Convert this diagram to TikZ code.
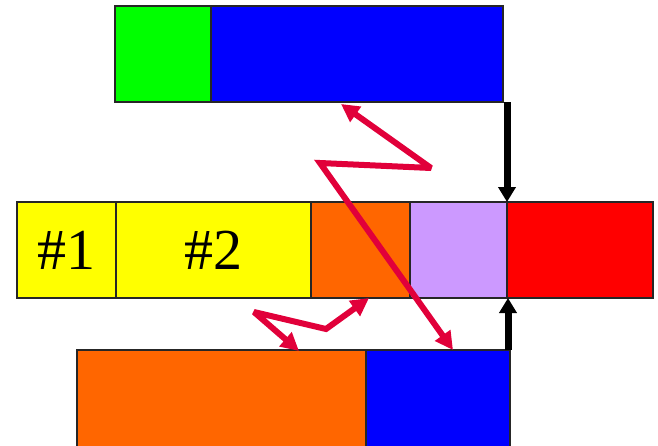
\documentclass[tikz,border=0pt]{standalone}
\usepackage{fontspec}
\setmainfont{Liberation Serif}
\usetikzlibrary{arrows.meta}
\definecolor{cgreen}{RGB}{0,255,0}
\definecolor{cblue}{RGB}{0,0,255}
\definecolor{cyellow}{RGB}{255,255,0}
\definecolor{corange}{RGB}{255,102,0}
\definecolor{clav}{RGB}{204,153,255}
\definecolor{cred}{RGB}{255,0,0}
\definecolor{czig}{RGB}{225,0,58}
\tikzset{
  box/.style={draw=black!85, line width=1.4pt, inner sep=0pt, outer sep=0pt, anchor=north west, font=\fontsize{58}{60}\selectfont},
  barrow/.style={line width=7pt, -{Triangle[length=15pt,width=17pt]}},
  zig/.style={draw=czig, line width=6pt, line join=miter, miter limit=2.5, {Triangle[length=18pt,width=18pt]}-{Triangle[length=18pt,width=18pt]}}
}
\begin{document}
\begin{tikzpicture}[x=1pt,y=-1pt]
\useasboundingbox (0,0) rectangle (658,445);
\clip (0,0) rectangle (658,445);
% top row
\node[box, fill=cgreen, minimum width=96pt, minimum height=96pt] (tg) at (115,6) {};
\node[box, fill=cblue, minimum width=292pt, minimum height=96pt] (tb) at (211,6) {};
% middle row
\node[box, fill=cyellow, minimum width=99pt, minimum height=96pt] (m1) at (17,202) {\#1};
\node[box, fill=cyellow, minimum width=195pt, minimum height=96pt] (m2) at (116,202) {\#2};
\node[box, fill=corange, minimum width=99pt, minimum height=96pt] (mo) at (311,202) {};
\node[box, fill=clav, minimum width=97pt, minimum height=96pt] (ml) at (410,202) {};
\node[box, fill=cred, minimum width=146pt, minimum height=96pt] (mr) at (507,202) {};
% bottom row
\node[box, fill=corange, minimum width=289pt, minimum height=110pt] (bo) at (77,350) {};
\node[box, fill=cblue, minimum width=144pt, minimum height=110pt] (bb) at (366,350) {};
% black arrows
\coordinate (d1) at ([xshift=4pt]tb.south east);
\draw[barrow] (d1) -- (ml.north east);
\coordinate (u1) at ([xshift=-2pt]bb.north east);
\draw[barrow] (u1) -- ([xshift=1pt]ml.south east);
% red zigzags
\coordinate (z1a) at (341,104);
\coordinate (z1b) at (431,168);
\coordinate (z1c) at (320,163);
\coordinate (z1d) at (453,350);
\draw[zig] (z1a) -- (z1b) -- (z1c) -- (z1d);
\coordinate (z2a) at (369,298);
\coordinate (z2b) at (326,329);
\coordinate (z2c) at (254,312);
\coordinate (z2d) at (299,351);
\draw[zig] (z2a) -- (z2b) -- (z2c) -- (z2d);
\end{tikzpicture}
\end{document}
